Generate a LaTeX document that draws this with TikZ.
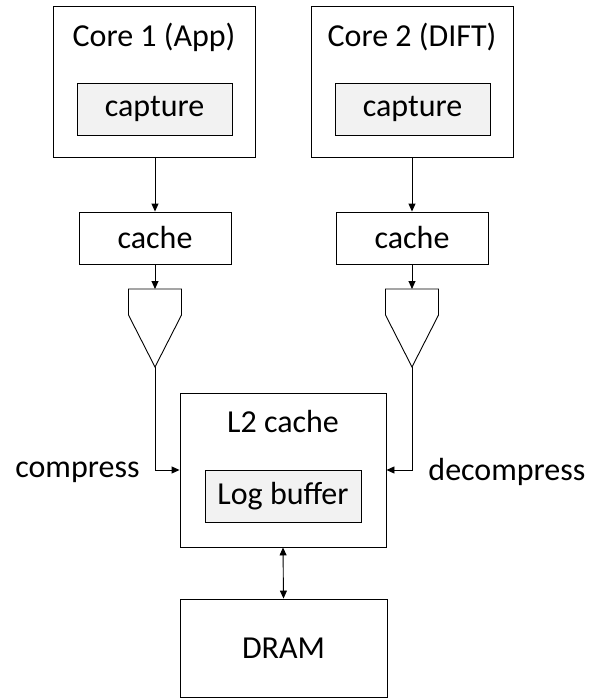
\documentclass[tikz,border=0pt]{standalone}
\usepackage{fontspec}
\setmainfont{Carlito}
\usetikzlibrary{arrows.meta}

\begin{document}
\begin{tikzpicture}[x=1pt,y=-1pt,line width=0.9pt,
    >={Triangle[length=8pt,width=7pt]},
    every node/.style={font=\fontsize{32}{38}\selectfont,inner sep=0pt},
    unit/.style={draw,rectangle,minimum width=202pt,minimum height=151pt},
    inner/.style={draw,rectangle,fill=black!5,minimum width=155pt,minimum height=52pt},
    cachebox/.style={draw,rectangle,minimum width=152pt,minimum height=52pt}]
    \useasboundingbox (0,0) rectangle (592,698);

    % The two cores with their capture blocks
    \node (core1) [unit] at (154,81.5) {};
    \node at (154,37) {Core 1 (App)};
    \node (cap1) [inner] at (154.5,109) {capture};
    \node (core2) [unit] at (412,81.5) {};
    \node at (412,37) {Core 2 (DIFT)};
    \node (cap2) [inner] at (412.5,109) {capture};

    % Private caches
    \node (cache1) [cachebox] at (155,238) {cache};
    \node (cache2) [cachebox] at (412,238) {cache};

    % Shared L2 with the log buffer, and DRAM below it
    \node (l2) [draw,rectangle,minimum width=206pt,minimum height=154pt] at (283,470) {};
    \node at (283,422) {L2 cache};
    \node (logbuf) [inner,minimum width=156pt] at (283,496) {Log buffer};
    \node (dram) [draw,rectangle,minimum width=207pt,minimum height=98pt] at (283.5,648) {DRAM};

    % The ``funnels'' (compressor / decompressor)
    \coordinate (f1top) at (155,289);
    \coordinate (f1tip) at (155,367);
    \coordinate (f2top) at (412,289);
    \coordinate (f2tip) at (412,367);
    \draw (f1top) ++(-26.5,0) -- ++(53,0) -- ++(0,26) -- (f1tip)
        -- ++(-26.5,-52) -- cycle;
    \draw (f2top) ++(-26.5,0) -- ++(53,0) -- ++(0,26) -- (f2tip)
        -- ++(-26.5,-52) -- cycle;

    % Arrows
    \draw[->] (core1.south -| cache1) -- (cache1.north);
    \draw[->] (core2.south -| cache2) -- (cache2.north);
    \draw[->] (cache1.south) -- (f1top);
    \draw[->] (cache2.south) -- (f2top);
    \draw[->] (f1tip) |- (l2.west);
    \draw[->] (f2tip) |- (l2.east);
    \draw[<->] (l2.south) -- (dram.north);

    % Labels next to the funnels
    \node (comp) [anchor=east] at (140,472) {compress};
    \node (decomp) [anchor=west] at (428,472) {decompress};

\end{tikzpicture}
\end{document}
